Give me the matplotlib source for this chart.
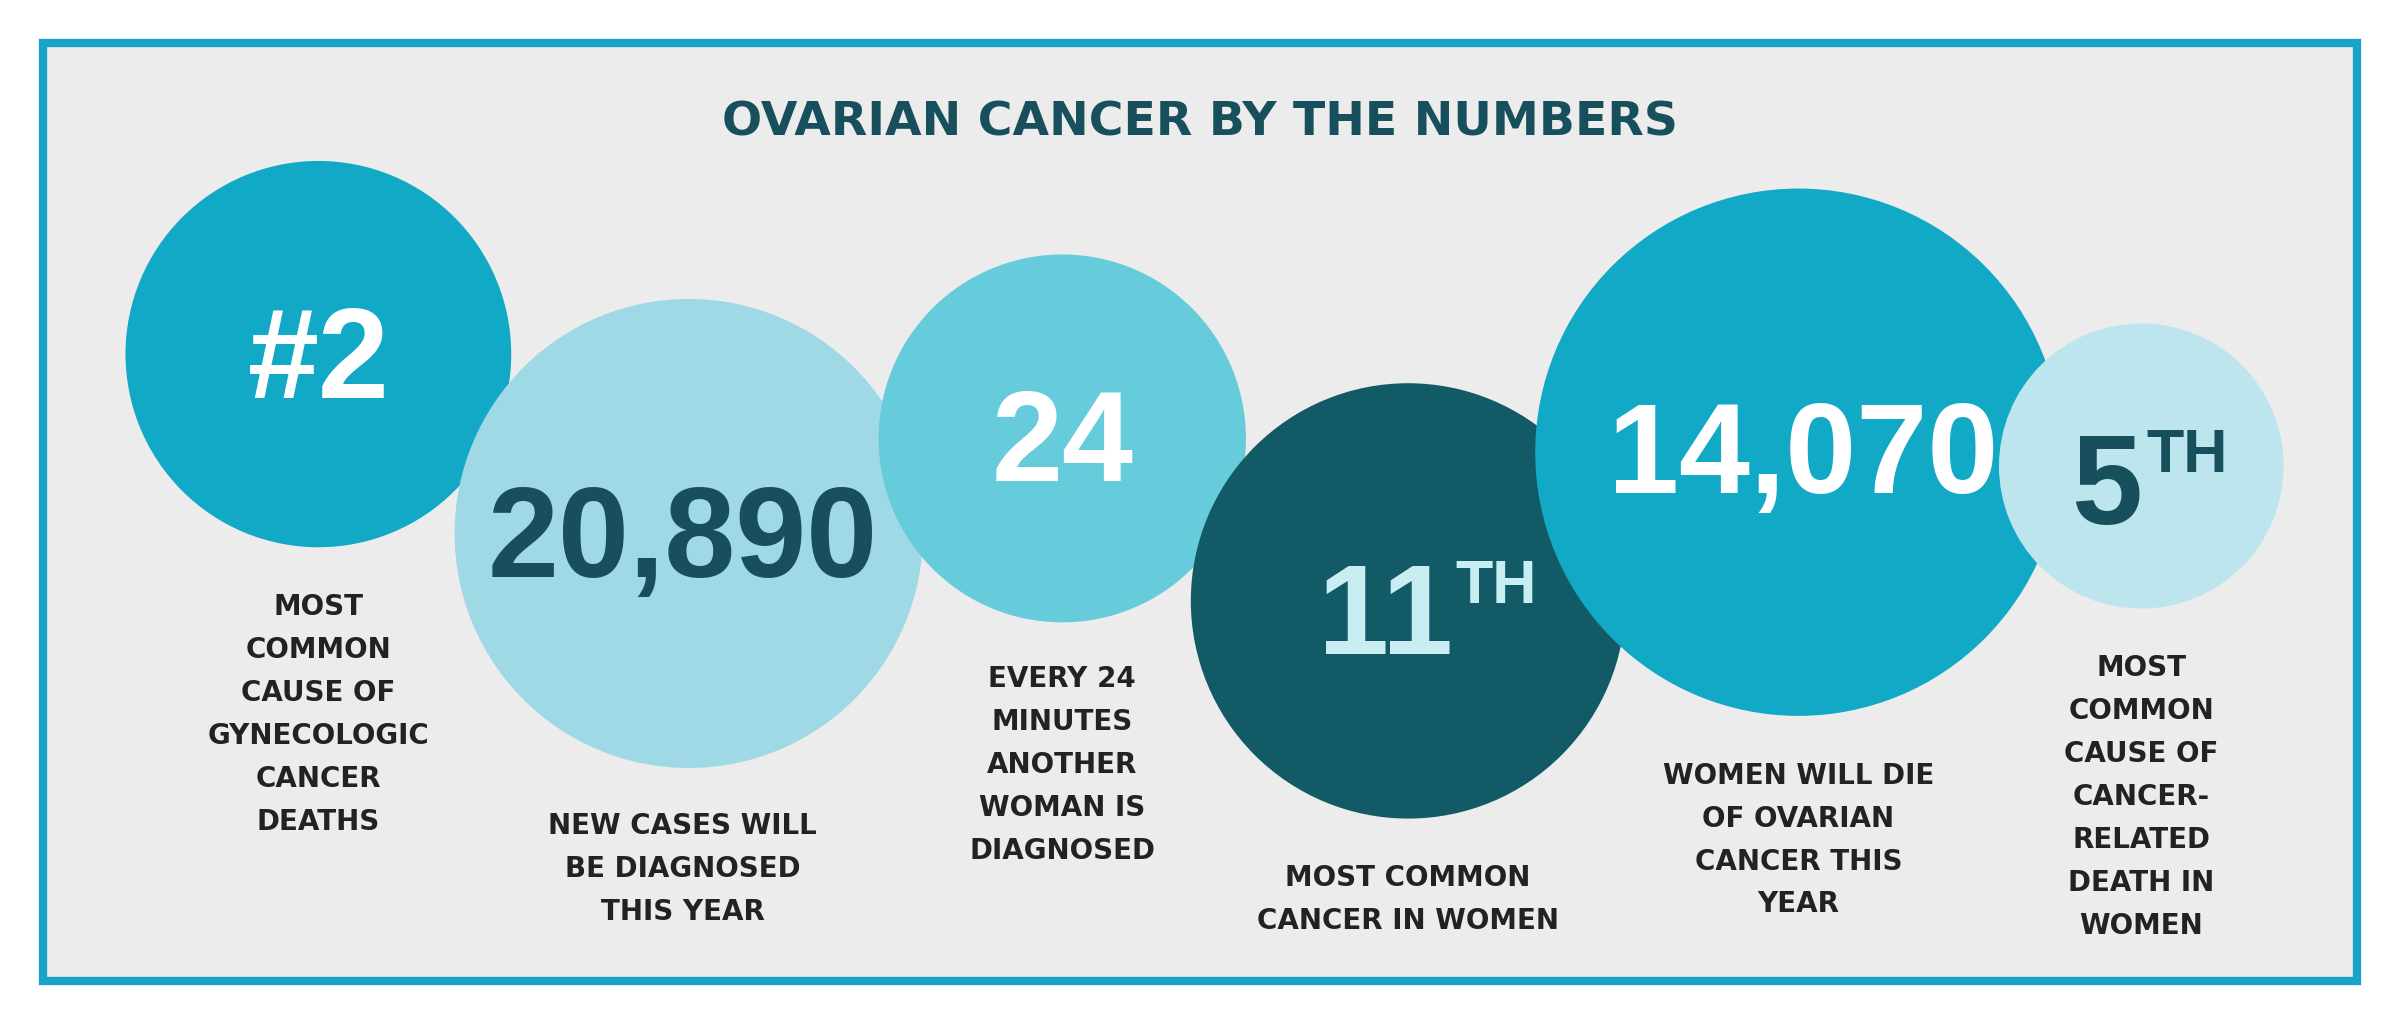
import matplotlib
matplotlib.use("Agg")
import matplotlib.pyplot as plt
from matplotlib.patches import Circle, Rectangle

title = "OVARIAN CANCER BY THE NUMBERS"
cx = [208, 450, 694, 920, 1175, 1399]
cy = [231, 348, 286, 392, 295, 304]
radius = [126, 153, 120, 142, 172, 93]
colors = ["#12A9C6", "#A0D9E6", "#66CCDB", "#125A66", "#12A9C6", "#BDE5EE"]
numbers = ["#2", "20,890", "24", "11", "14,070", "5"]
sups = ["", "", "", "TH", "", "TH"]
num_colors = ["white", "#17505C", "white", "#C8EEF3", "white", "#17505C"]
num_pos = [(208, 238), (446, 355), (694, 292), (905, 405), (1178, 300), (1376, 320)]
labels = [
    ["MOST", "COMMON", "CAUSE OF", "GYNECOLOGIC", "CANCER", "DEATHS"],
    ["NEW CASES WILL", "BE DIAGNOSED", "THIS YEAR"],
    ["EVERY 24", "MINUTES", "ANOTHER", "WOMAN IS", "DIAGNOSED"],
    ["MOST COMMON", "CANCER IN WOMEN"],
    ["WOMEN WILL DIE", "OF OVARIAN", "CANCER THIS", "YEAR"],
    ["MOST", "COMMON", "CAUSE OF", "CANCER-", "RELATED", "DEATH IN", "WOMEN"],
]
label_x = [208, 446, 694, 920, 1175, 1399]
label_y0 = [396, 539, 443, 573, 506, 436]

fig = plt.figure(figsize=(24, 10.24), dpi=100)
ax = fig.add_axes([0, 0, 1, 1])
ax.set_xlim(0, 1568)
ax.set_ylim(668, 0)
ax.axis("off")
fig.patch.set_facecolor("white")
ax.add_patch(Rectangle((28, 28), 1512, 612, facecolor="#ECECEC", edgecolor="#1AA3C8", lw=6, zorder=0))
ax.text(784, 80, title, ha="center", va="center", fontsize=34, fontweight="heavy",
        color="#17505C", family=["DejaVu Sans"])

numfont = ["Liberation Sans Narrow", "Liberation Sans", "DejaVu Sans"]
for i in range(len(cx)):
    ax.add_patch(Circle((cx[i], cy[i]), radius[i], facecolor=colors[i], edgecolor="none", zorder=1 + i))
for i in range(len(cx)):
    x, y = num_pos[i]
    t = ax.text(x, y, numbers[i], ha="center", va="center", fontsize=92, fontweight="bold",
                color=num_colors[i], family=numfont, zorder=20)
    if sups[i]:
        ax.text(x + (46 if i == 3 else 26), y - 22, sups[i], ha="left", va="center", fontsize=44,
                fontweight="bold", color=num_colors[i], family=numfont, zorder=20)
    for j, line in enumerate(labels[i]):
        ax.text(label_x[i], label_y0[i] + 28 * j, line, ha="center", va="center", fontsize=20,
                fontweight="heavy", color="#222222", family=["DejaVu Sans"], zorder=20)

fig.savefig("out.png", dpi=100)
